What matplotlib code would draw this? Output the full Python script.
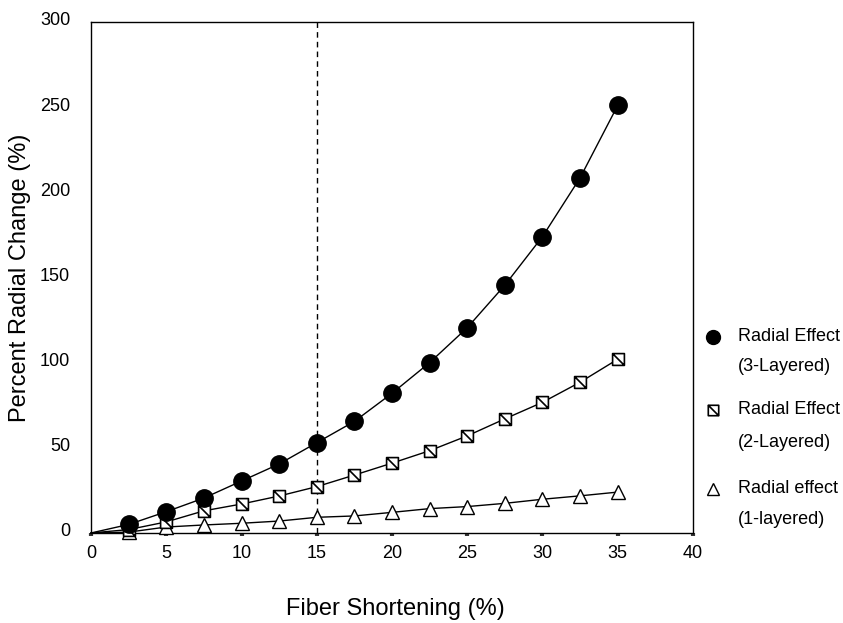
import matplotlib
matplotlib.use("Agg")
import matplotlib.pyplot as plt
from matplotlib.path import Path
from matplotlib.transforms import ScaledTranslation

plt.rcParams['font.family'] = ['Liberation Sans', 'DejaVu Sans']

# Fiber shortening (%) and the radial change (%) for each wall model
shortening = [0, 2.5, 5, 7.5, 10, 12.5, 15, 17.5, 20, 22.5, 25, 27.5, 30, 32.5, 35]
radial_3layer = [0, 5, 12.5, 20.5, 30.5, 40.5, 53, 65.5, 82, 100, 120.5, 145.5, 174, 208.5, 251]
radial_2layer = [0, 2, 6.5, 13, 17, 21.7, 27.2, 34, 41, 48.3, 57, 67, 76.7, 88.5, 102]
radial_1layer = [0, 0.5, 3.5, 4.7, 5.7, 7, 9.2, 10, 12.1, 14.3, 15.5, 17.4, 19.8, 21.8, 24]

x_ticks = [0, 5, 10, 15, 20, 25, 30, 35, 40]
y_ticks = [0, 50, 100, 150, 200, 250, 300]
threshold = 15

legend_labels = [("Radial Effect", "(3-Layered)"),
                 ("Radial Effect", "(2-Layered)"),
                 ("Radial effect", "(1-layered)")]

# square with a diagonal stroke from top-left to bottom-right
square_diag = Path(
    [(-1, -1), (1, -1), (1, 1), (-1, 1), (-1, -1), (-1, 1), (1, -1)],
    [Path.MOVETO, Path.LINETO, Path.LINETO, Path.LINETO, Path.CLOSEPOLY,
     Path.MOVETO, Path.LINETO])

fig = plt.figure(figsize=(8.43, 6.23), dpi=100)
ax = fig.add_axes([0.108, 0.1445, 0.714, 0.8202])

styles = [
    dict(marker='o', markersize=12.5, markerfacecolor='black', markeredgecolor='black'),
    dict(marker=square_diag, markersize=8.5, markerfacecolor='white',
         markeredgecolor='black', markeredgewidth=1.2),
    dict(marker='^', markersize=10, markerfacecolor='white', markeredgecolor='black',
         markeredgewidth=1.0),
]
legend_sizes = [10, 7.5, 9]
series = [radial_3layer, radial_2layer, radial_1layer]

ax.axvline(threshold, color='black', linestyle=(0, (4, 3)), linewidth=1.0, zorder=1)

for vals, st in zip(reversed(series), reversed(styles)):
    ax.plot(shortening, vals, color='black', linewidth=1.0,
            markevery=list(range(1, len(shortening))), clip_on=False, zorder=3, **st)

ax.set_xlim(0, 40)
ax.set_ylim(0, 300)
ax.set_xticks(x_ticks)
ax.set_yticks(y_ticks)
ax.tick_params(axis='x', direction='out', length=2, width=3, color='#333333',
               labelsize=13, pad=7)
ax.tick_params(axis='y', length=0, labelsize=13, pad=15)
# y labels sit slightly above their values
shift = ScaledTranslation(0, 3 / 100, fig.dpi_scale_trans)
for lbl in ax.get_yticklabels():
    lbl.set_transform(lbl.get_transform() + shift)
for sp in ax.spines.values():
    sp.set_linewidth(1.0)

ax.set_xlabel("Fiber Shortening (%)", fontsize=17)
ax.set_ylabel("Percent Radial Change (%)", fontsize=17)
ax.xaxis.set_label_coords(0.505, (533 - 609) / 511)
ax.yaxis.set_label_coords((20 - 91) / 602, 0.5)
ax.xaxis.label.set_va('center')
ax.yaxis.label.set_va('center')

# legend drawn beside the axes
marker_x = (713 - 91) / 602
text_x = (738 - 91) / 602
rows_px = [(337, 367), (410, 443), (489, 520)]
for (first, second), (py1, py2), st, ms in zip(legend_labels, rows_px, styles, legend_sizes):
    y1 = (533 - py1) / 511
    y2 = (533 - py2) / 511
    st = dict(st, markersize=ms)
    ax.plot([marker_x], [y1], transform=ax.transAxes, clip_on=False, linestyle='none', **st)
    ax.text(text_x, y1, first, transform=ax.transAxes, fontsize=13, va='center', ha='left')
    ax.text(text_x, y2, second, transform=ax.transAxes, fontsize=13, va='center', ha='left')

fig.savefig("out.png", dpi=100)
